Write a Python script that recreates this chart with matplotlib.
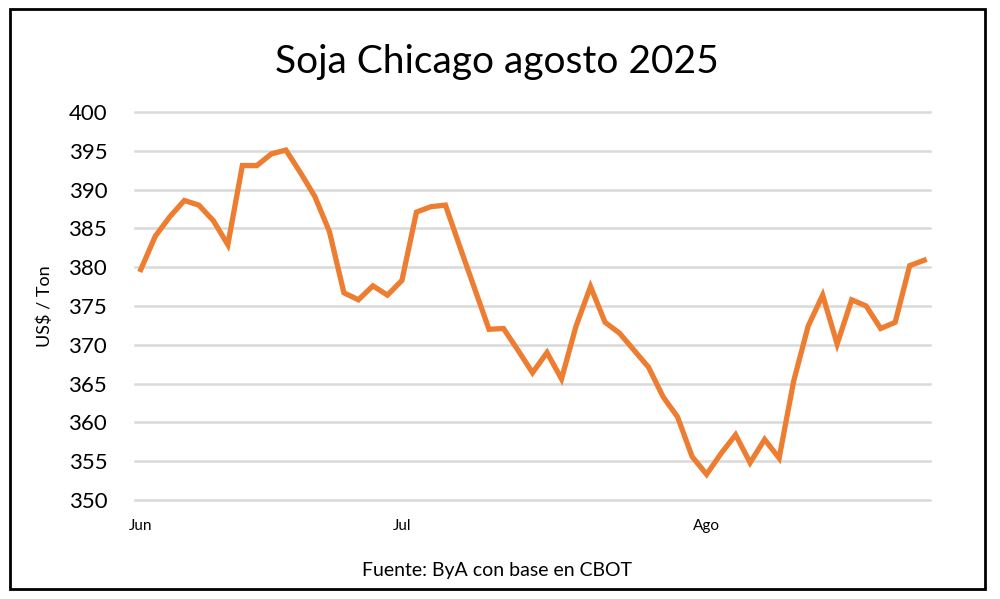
import matplotlib.pyplot as plt
from matplotlib.patches import Rectangle

# data (daily closes, US$/ton)
precios = [379.7, 384.0, 386.5, 388.6, 388.0, 386.0, 382.9, 393.1, 393.1, 394.6,
           395.1, 392.2, 389.1, 384.6, 376.7, 375.8, 377.6, 376.4, 378.3, 387.1,
           387.8, 388.0, 382.6, 377.3, 372.0, 372.1, 369.3, 366.4, 369.0, 365.6,
           372.4, 377.5, 372.9, 371.5, 369.3, 367.1, 363.3, 360.7, 355.6, 353.3,
           356.0, 358.4, 354.8, 357.8, 355.4, 365.3, 372.4, 376.4, 370.1, 375.8,
           375.0, 372.1, 372.9, 380.2, 380.9]
meses = ["Jun", "Jul", "Ago"]
meses_pos = [0, 18, 39]
y_ticks = [350, 355, 360, 365, 370, 375, 380, 385, 390, 395, 400]

plt.rcParams['font.family'] = ['Lato', 'DejaVu Sans']

fig = plt.figure(figsize=(10, 5.99), dpi=100)
ax = fig.add_axes([0.135, 0.1653, 0.795, 0.6477])

x = list(range(len(precios)))
ax.plot(x, precios, color="#ED7D31", linewidth=3.8, solid_joinstyle='miter', zorder=3)

ax.set_ylim(350, 400)
ax.set_xlim(-0.4, 54.4)
ax.set_yticks(y_ticks)
ax.set_yticklabels([str(v) for v in y_ticks], fontsize=16)
ax.set_xticks(meses_pos)
ax.set_xticklabels(meses, fontsize=11)
ax.tick_params(axis='both', length=0)
ax.tick_params(axis='y', pad=20)
ax.tick_params(axis='x', pad=14)
ax.grid(axis='y', color="#d9d9d9", linewidth=1.8)
for g in ax.get_ygridlines():
    g.set_clip_on(False)
for s in ax.spines.values():
    s.set_visible(False)

ax.set_ylabel("US$ / Ton", fontsize=13, labelpad=11)

fig.text(0.497, 0.897, "Soja Chicago agosto 2025", ha='center', va='center', fontsize=28)
fig.text(0.497, 0.047, "Fuente: ByA con base en CBOT", ha='center', va='center', fontsize=14)

fig.patches.append(Rectangle((0.010, 0.017), 0.975, 0.968, transform=fig.transFigure,
                             fill=False, edgecolor='black', linewidth=2))

plt.savefig("out.png")
